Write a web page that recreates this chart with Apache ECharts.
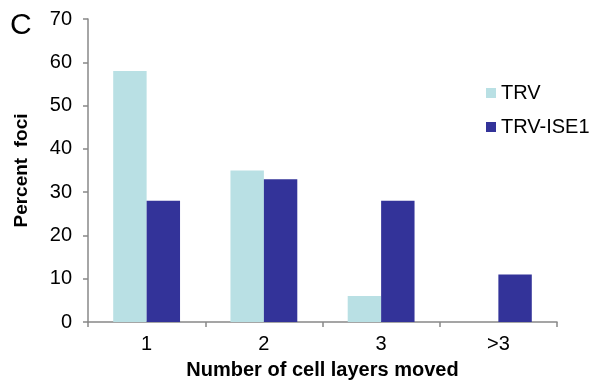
<!DOCTYPE html>
<html>
<head>
<meta charset="utf-8">
<script src="https://cdn.jsdelivr.net/npm/echarts@6/dist/echarts.min.js"></script>
<style>html,body{margin:0;padding:0;background:#fff;}#c{width:597px;height:385px;}</style>
</head>
<body>
<div id="c"></div>
<script>
const categories = ['1', '2', '3', '>3'];
const trv = [58, 35, 6, 0];
const trvIse1 = [28, 33, 28, 11];
const yTicks = [0, 10, 20, 30, 40, 50, 60, 70];

const chart = echarts.init(document.getElementById('c'), null, {renderer: 'canvas'});
const font = 'Liberation Sans, Arial, sans-serif';
chart.setOption({
  animation: false,
  backgroundColor: '#fff',
  graphic: [{
    type: 'text', left: 10, top: 11,
    style: {text: 'C', font: '30px ' + font, fill: '#000'}
  }],
  legend: {
    orient: 'vertical', left: 481, top: 78, itemWidth: 10, itemHeight: 10, itemGap: 14,
    textStyle: {fontFamily: font, fontSize: 20, color: '#000'},
    icon: 'rect',
    data: ['TRV', 'TRV-ISE1']
  },
  grid: {left: 88, right: 40, top: 19, bottom: 59, containLabel: false},
  xAxis: {
    type: 'category', data: categories,
    axisLine: {lineStyle: {color: '#888', width: 1.5}},
    axisTick: {show: true, length: 5, lineStyle: {color: '#888', width: 1.5}},
    axisLabel: {fontFamily: font, fontSize: 20, color: '#000', margin: 12},
    name: 'Number of cell layers moved', nameLocation: 'middle', nameGap: 38,
    nameTextStyle: {fontFamily: font, fontSize: 20, fontWeight: 'bold', color: '#000'}
  },
  yAxis: {
    type: 'value', min: yTicks[0], max: yTicks[yTicks.length - 1], interval: 10,
    splitLine: {show: false},
    axisLine: {show: true, lineStyle: {color: '#888', width: 1.5}},
    axisTick: {show: true, length: 5, lineStyle: {color: '#888', width: 1.5}},
    axisLabel: {fontFamily: font, fontSize: 20, color: '#000', margin: 16},
    name: 'Percent  foci', nameLocation: 'middle', nameGap: 57,
    nameTextStyle: {fontFamily: font, fontSize: 19, fontWeight: 'bold', color: '#000'}
  },
  series: [
    {name: 'TRV', type: 'bar', data: trv, barGap: '0%', barCategoryGap: '43%',
     itemStyle: {color: '#B9E0E4'}},
    {name: 'TRV-ISE1', type: 'bar', data: trvIse1, barGap: '0%', barCategoryGap: '43%',
     itemStyle: {color: '#333399'}}
  ]
});
</script>
</body>
</html>
